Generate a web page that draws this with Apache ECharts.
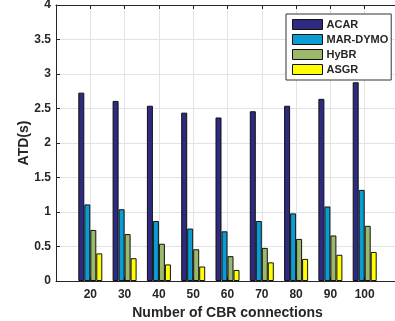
<!DOCTYPE html>
<html>
<head>
<meta charset="utf-8">
<script src="https://cdn.jsdelivr.net/npm/echarts@6/dist/echarts.min.js"></script>
<style>
  html, body { margin: 0; padding: 0; background: #fff; }
  #chart { width: 395px; height: 321px; }
</style>
</head>
<body>
<div id="chart"></div>
<script>
// Number of CBR connections
const connections = [20, 30, 40, 50, 60, 70, 80, 90, 100];
// Average transmission delay (s) per protocol
const acar    = [2.73, 2.61, 2.54, 2.44, 2.37, 2.46, 2.54, 2.64, 2.88];
const marDymo = [1.11, 1.04, 0.87, 0.76, 0.72, 0.87, 0.98, 1.08, 1.32];
const hybr    = [0.74, 0.68, 0.54, 0.46, 0.36, 0.48, 0.61, 0.66, 0.80];
const asgr    = [0.40, 0.33, 0.24, 0.21, 0.16, 0.27, 0.32, 0.38, 0.42];
const seriesNames = ['ACAR', 'MAR-DYMO', 'HyBR', 'ASGR'];
const yTicks = [0, 0.5, 1, 1.5, 2, 2.5, 3, 3.5, 4];

const colors = ['#2e2a80', '#0a9cd2', '#9cb86a', '#ffff00'];
const font = 'Liberation Sans, Arial, Helvetica, sans-serif';
const ink = '#262626';

const pairs = vals => connections.map((c, i) => [c, vals[i]]);
const allValues = [acar, marDymo, hybr, asgr];

const chart = echarts.init(document.getElementById('chart'), null, { renderer: 'canvas' });

chart.setOption({
  animation: false,
  backgroundColor: '#fff',
  textStyle: { fontFamily: font },
  grid: { left: 56, top: 5, right: -4, bottom: 40, containLabel: false, outerBoundsMode: 'none' },
  legend: {
    orient: 'vertical',
    left: 286,
    top: 14,
    padding: [5, 3, 5, 6],
    itemWidth: 30,
    itemHeight: 10,
    itemGap: 4,
    backgroundColor: '#fff',
    borderColor: '#333',
    borderWidth: 1,
    borderRadius: 0,
    icon: 'rect',
    itemStyle: { borderColor: '#111', borderWidth: 1 },
    textStyle: { fontFamily: font, fontWeight: 'bold', fontSize: 11, color: ink, padding: [0, 0, 0, -1] },
    data: seriesNames
  },
  xAxis: [{
    type: 'value',
    min: 10,
    max: 110,
    interval: 10,
    name: 'Number of CBR connections',
    nameLocation: 'middle',
    nameGap: 25,
    nameMoveOverlap: false,
    nameTextStyle: { fontFamily: font, fontWeight: 'bold', fontSize: 14, color: ink },
    axisLine: { show: true, lineStyle: { color: ink, width: 1 } },
    axisTick: { show: true, inside: true, length: 4, lineStyle: { color: ink } },
    axisLabel: {
      margin: 8, fontFamily: font, fontWeight: 'bold', fontSize: 12, color: ink,
      formatter: v => (connections.indexOf(v) >= 0 ? String(v) : '')
    },
    splitLine: { show: true, lineStyle: { color: '#e3e3e3', width: 1 } }
  }, {
    type: 'value',
    position: 'top',
    min: 10,
    max: 110,
    interval: 10,
    axisLine: { show: true, onZero: false, lineStyle: { color: ink, width: 1 } },
    axisTick: { show: true, inside: true, length: 4, lineStyle: { color: ink } },
    axisLabel: { show: false },
    splitLine: { show: false }
  }],
  yAxis: {
    type: 'value',
    min: yTicks[0],
    max: yTicks[yTicks.length - 1],
    interval: 0.5,
    name: 'ATD(s)',
    nameLocation: 'middle',
    nameGap: 25,
    nameMoveOverlap: false,
    nameTextStyle: { fontFamily: font, fontWeight: 'bold', fontSize: 14, color: ink },
    axisLine: { show: true, lineStyle: { color: ink, width: 1 } },
    axisTick: { show: true, inside: true, length: 4, lineStyle: { color: ink } },
    axisLabel: { margin: 5, fontFamily: font, fontWeight: 'bold', fontSize: 12, color: ink },
    splitLine: { show: true, lineStyle: { color: '#e3e3e3', width: 1 } }
  },
  series: seriesNames.map((name, k) => ({
    name,
    type: 'bar',
    xAxisIndex: 0,
    barWidth: 6,
    barGap: '0%',
    itemStyle: { color: colors[k], borderColor: '#111', borderWidth: 1 },
    data: pairs(allValues[k])
  }))
});
</script>
</body>
</html>
